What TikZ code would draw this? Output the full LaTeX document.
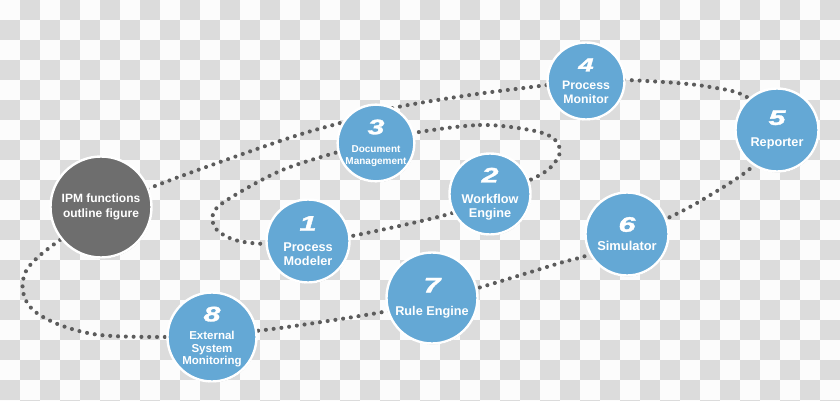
\documentclass[tikz,border=0pt]{standalone}
\usepackage{fontspec}
\setmainfont{Liberation Sans}
\newfontfamily\digfont{Liberation Sans}[FakeBold=1.5]
\usetikzlibrary{shadows}
\definecolor{bblue}{RGB}{100,168,213}
\definecolor{dgrey}{RGB}{110,110,110}
\definecolor{dotc}{RGB}{92,92,92}
\definecolor{chkgrey}{RGB}{220,220,220}
\definecolor{chkwhite}{RGB}{252,252,252}
\newcommand\dig[2][21]{{\digfont\fontsize{#1}{#1}\selectfont\bfseries\itshape\scalebox{1.45}[1]{#2}}}
\tikzset{
  bub/.style={circle, fill=bblue, draw=white, line width=2.4pt, text=white,
    align=center, inner sep=0pt,
    drop shadow={shadow xshift=0.5pt, shadow yshift=-0.9pt, opacity=0.3, fill=black}},
  ipmbub/.style={bub, fill=dgrey},
  loopline/.style={draw=dotc, line width=4.1pt, line cap=round, dash pattern=on 0pt off 7.8pt},
  lab/.style 2 args={font={\fontsize{#1}{#2}\selectfont\bfseries}},
}
\begin{document}
\begin{tikzpicture}[x=1pt,y=-1pt]
\useasboundingbox (0,0) rectangle (840,401);
\fill[chkwhite] (0,0) rectangle (840,401);
\foreach \j in {0,2,...,18}{
  \foreach \i in {1,3,...,41}{
    \fill[chkgrey] ({\i*20},{\j*20}) rectangle ({\i*20+20},{\j*20+20});
  }
}
\foreach \j in {1,3,...,19}{
  \foreach \i in {0,2,...,40}{
    \fill[chkgrey] ({\i*20},{\j*20}) rectangle ({\i*20+20},{\j*20+20});
  }
}
\foreach \i in {1,3,...,41}{
  \fill[chkgrey] ({\i*20},400) rectangle ({\i*20+20},401);
}

% outer dotted loop
\draw[loopline] plot[smooth cycle, tension=0.55] coordinates {
  (150,188) (280,141) (340,123) (393,108) (470,95) (547,85) (586,79)
  (627,80) (677,83) (710,87) (745,96) (782,128) (752,167) (702,200)
  (668,218) (627,236) (588,255) (560,263) (478,288) (432,300) (383,312)
  (280,328) (213,335) (163,337) (100,335) (60,325) (33,310) (23,292)
  (25,273) (37,258) (60,240) (100,214)};

% inner dotted loop
\draw[loopline] plot[smooth cycle, tension=0.55] coordinates {
  (413,133) (480,125) (530,130) (553,138) (560,152) (550,168) (530,180)
  (490,196) (449,214) (352,236) (308,242) (266,244) (235,240) (216,229)
  (213,214) (227,200) (280,171) (338,152) (376,142)};

\node[ipmbub, minimum size=101pt, lab={12}{14}] (ipm) at (101,207)
  {IPM functions\\[1pt]outline figure};

\node[bub, minimum size=83pt, lab={12.7}{14.5}] (n1) at (308,241)
  {\dig{1}\\[6pt]Process\\Modeler};

\node[bub, minimum size=81pt, lab={12.7}{14}] (n2) at (490,194)
  {\dig{2}\\[7pt]Workflow\\Engine};

\node[bub, minimum size=75pt, lab={10}{11.5}] (n3) at (376,143)
  {\dig{3}\\[7pt]Document\\Management};

\node[bub, minimum size=77pt, lab={12.3}{14}] (n4) at (586,81)
  {\dig[19]{4}\\[4pt]Process\\Monitor};

\node[bub, minimum size=83pt, lab={12.7}{15}] (n5) at (777,130)
  {\dig{5}\\[7pt]Reporter};

\node[bub, minimum size=83pt, lab={12.9}{15}] (n6) at (627,234)
  {\dig{6}\\[4pt]Simulator};

\node[bub, minimum size=91pt, lab={12.7}{15}] (n7) at (432,298)
  {\dig{7}\\[8pt]Rule Engine};

\node[bub, minimum size=89pt, lab={11.5}{12.5}] (n8) at (212,337)
  {\dig{8}\\[6pt]External\\System\\Monitoring};
\end{tikzpicture}
\end{document}
